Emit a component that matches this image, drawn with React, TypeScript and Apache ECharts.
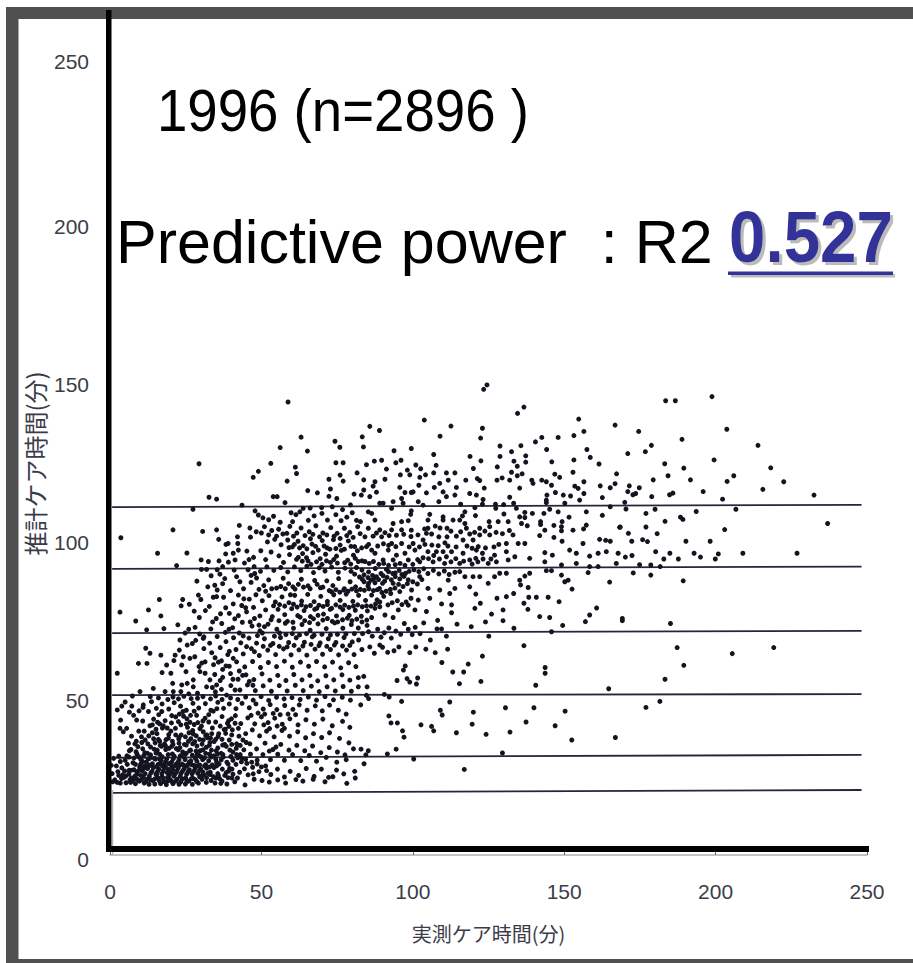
import React, { useEffect, useRef } from "react";
import * as echarts from "echarts";

const xTicks = [0, 50, 100, 150, 200, 250];
const yTicks = [0, 50, 100, 150, 200, 250];
const yearLabel = "1996\u00a0(n=2896\u00a0)";
const powerLabel = "Predictive power\u00a0\u00a0:\u00a0R2";
const powerValue = "0.527";
const xName = "実測ケア時間(分)";
const yName = "推計ケア時間(分)";

// horizontal reference lines: [x, y] at each end (slightly tilted in the scan)
const refLines = [
  [[0.7, 111.2], [248.2, 111.9]],
  [[0.7, 91.7], [248.2, 92.4]],
  [[0.7, 71.4], [248.2, 72.1]],
  [[0.7, 51.8], [248.2, 52.1]],
  [[0.7, 32], [248.2, 32.9]],
  [[0.7, 20.9], [248.2, 21.8]],
];

// scatter values are flat x,y lists
const rightSparse = [183.5,144.8,186.7,144.8,198.8,146.1,174.6,135.1,203.7,135.8,188.9,132.6,178.8,130.7,176.8,128.7,171,128.1,214,130.7,199.5,126.1,183.2,124.9,189.5,123.5,218.2,123.6,184.3,121.1,179.4,119.8,191.7,119.8,206,121.1,203.8,119.3,222.5,119.2,171.5,117.9,174.8,117.3,171,116.1,173.6,115.5,172.7,115.1,215.6,116.8,195.9,116.1,185.9,115.6,184.8,115.1,178.9,114.5,232.5,115,202.3,113.7,170,112.7,170.4,110.6,180,110.5,206.7,110.5,177,109.2,193.6,109.8,188.4,108,189.2,107.3,183.3,106.7,237,106,177,104.9,168.5,104.9,203,104.1,171.2,102.9,180.7,102.8,175.9,100.9,172.3,100.4,177.5,100.3,190.2,100.4,198.2,100.4,180.2,97.1,172.4,95.9,170.2,95.4,184.9,96.6,192.9,96.6,200.9,96.4,209,96.6,226.9,96.6,195,95.4,182.9,94.8,187.7,94.8,199.9,94.8,174.9,93,178.6,92.9,181.7,92.4,172.8,90.4,178.6,89.7,189.3,87.9,169.2,76,185.1,74.4,187.3,66.8,205.5,64.9,219.2,66.8,189.5,61.2,183.3,56.8,181.6,49.8,177,47.9,169.2,75.3];

const lowerSparse = [124,74.9,129.8,75.3,133.4,72.9,149.5,73.8,157,75,145.8,71.8,125.1,70.4,111.1,70.4,108,72.7,109.5,72.7,105.8,69.2,136.7,67.4,111.5,66.3,107.4,65.2,104.3,66.3,101,67,99,65.2,95.4,67,93.8,65.8,91.7,65.3,87.3,65,85.8,67,83.2,66.2,89.1,67.6,90,66.9,123,64.1,109.6,62.1,118.3,61.6,97.5,61,96.9,59.7,113.2,59.1,116.8,59.1,143.7,60.5,143.7,58.7,83.8,57.7,94.8,56.4,98.1,57,101.6,57.2,99,55.9,101.2,55.3,115.4,55.4,122.5,56.1,140.6,54.9,84.9,54.4,164.7,53.8,84.7,51.7,85.4,50.7,90.6,52,92.2,51.2,96.3,49.8,82.8,48.7,112.2,49.6,109.1,47,109.7,45.5,120,46.4,130.6,47.8,140,47.8,150.3,46.7,92.1,45.2,92.8,43,94.9,43,102.7,42.4,119.6,42.6,137.4,43.3,147,42.1,106.2,41.9,106.9,40.5,96.6,40.5,114.4,39.9,124.2,39.4,132.1,40.1,97.1,38.5,152.5,37.6,166.9,38.4,82.9,34.7,85.3,34.2,84.5,32.9,91.6,33.2,94.5,34.7,100.3,31.6,129.6,33.5,83.9,30.1,117,28.3];

const upperMiddle = [124.5,149.8,123.4,148.4,136.7,142.8,134.6,140.8,154.8,139,166.8,137.1,103.8,138.7,112.6,136.8,85.8,136.7,89,135.4,123,136.1,153.2,133.8,156.5,135.1,109,133.6,122.4,133,148,133.2,142.6,133.2,140.5,131.8,83.3,133.4,83.7,130.2,93.8,129,99.5,129.7,128.8,130.5,135.7,130.6,144.2,129.4,157.5,129.4,106.9,127.8,132.6,128.7,128.8,127.2,118.9,127.2,137.3,127.4,158.6,126.9,122.5,125.8,133.4,125.7,137.3,125.4,153.2,126.1,145.9,125.5,161.5,124.8,89.7,126,96.1,126,87.3,125.7,94.4,125.2,84.7,124.6,101,124.5,107.7,124.4,127.9,123.9,134.5,124.1,120,123.4,102.6,123.3,98.2,122.9,91.3,123.2,106.9,122,111.1,122,113.9,122,132.6,122.2,136.1,121.7,152.9,122.2,167.3,121.7,95.9,121.4,99,121.4,104.2,121.4,134.5,121.1,146.9,121.6,148.5,120.6,102.3,120.6,121.3,120.2,129.5,120.4,90.8,120,127.8,119.7,132,119.7,139.3,119.7,142.6,119.7,111.7,119.7,117.5,119.7,122.1,119.6,139.7,118.7,144.1,119.2,83.8,119.8,87.5,119.2,102,118.1,108.9,118.7,156.5,119.2,161.9,117.9,166.8,118.6,145.8,118.1,153.5,117.8,95.7,117.4,107.1,117.4,114.4,117.4,123.6,117.2,135.3,117.2,154.6,117.1,165.2,117.3,86.9,117.8,83.8,116.6,99.5,115.8,97.4,115.8,110,116,118.8,115.5,147.1,115.8,88,115.9,113.9,115,111.1,114.5,104.5,115.7,121,115,144.3,115,149.7,115,152.1,114.7,156.5,115.5,162.6,114.2,83,115,85.8,114.5,96.3,113.9,100.1,116,123.2,113.6,132,114.3,144.1,113.4,155.1,113.4,108.6,112.9];

const middleBand = [89.1,112.4,90.2,112.4,93.5,112.9,96.8,112.4,101.8,112.9,103.4,111.8,115.8,112.1,120.5,111,123,112.1,127.3,112.1,127.4,110.8,130,112,133.3,112.4,134.2,110.8,144.1,112.6,145.2,110.5,150.2,112.4,165.2,111.3,93,110.8,99.5,110,85.3,109.7,86.4,109.2,99.3,108.9,117.2,109.7,116.4,108.4,105.6,108.9,110,108.1,120.7,108.5,130.1,109,135.3,108.1,137,109.5,139.5,109.2,143.3,109.2,148,109.7,157.3,109.7,162.6,108.6,151.6,108,137,107.9,87.5,107.1,93.5,106,96.3,106.6,98.5,106.9,105,107.1,110,107.1,113.3,107.1,115.5,107.1,117.2,106,125.2,106.6,128.2,106.6,131.5,106.6,135.9,106,137.8,105.3,142.2,106.6,142.2,105.7,146.6,105.4,149.3,106.6,149.1,105,82.7,106.6,152.9,103.9,157.3,105.5,156.4,104.3,168.3,104.8,85.3,104.5,89.1,104,93,104,96.3,104,99.5,103.9,105,104.5,111.3,104.5,122.1,104.5,117.7,104.5,125.4,105,149.1,103.7,143.6,103.9,104.5,102.9,106.2,102.7,108.6,101.8,111.3,101.8,114.4,102,118.8,102.7,122.1,102.4,125.4,102.4,133.1,102.4,141.9,102.2,146.6,101.6,161.7,101,163.7,100.7,165.2,100.4,149.3,100.4,137,99.7,134.8,99.7,130.9,99.7,156.2,99.7,121.6,98.7,119.9,100.8,116.6,100.8,110.6,99.9,103.4,100.8,100.1,99.7,96.3,99.7,93,99.7,89.7,101.8,86.9,102,84.2,101.8,84.7,98.7,86.4,97.6,87.5,96.6,91.9,97.6,94.6,96,97.4,96.6,100.7,97.6,105,97.1,107.8,97.1,110,97.1,112.8,97.1,116.6,96.6,121,97.6,123,96.6,127,96,130.9,97.1,133.7,95.5,138.6,95,143.6,96.8,146.1,96,151.8,97.6,154,96.6,158.4,95.7,161.2,96.6,163.9,97.1,167.8,96.6,84.2,94,90.2,94.5,93.5,94.5,98.5,94.5,102.3,93.9,106.7,93.9,111.1,95.5,115.5,93.4,118.8,94.5,121.5,93.9,124.9,93.4,127.6,93.9,131.5,94.5,143.6,93.9,149.1,92.9,154,93.4,158.4,92.4,161.2,92.4,167.2,93.4,144.1,91.1,145.8,91.1,149.1,89.7,157.9,90.5,165,87.5,150.2,87.6,151.3,88.1,152.6,85.3,138.6,90.3,137,89.4,135.3,88.1,135.6,86.6,138.1,85.8,130.9,90.3,128.7,90.3,124.9,87.1,127,89.2,122.1,89.2,119.9,89.2,117.2,89.2,115.5,90.8,118.8,86,120.8,83.7,127.8,82.4,130.9,82.9,133.3,83.9,136.7,80.8,138.3,82.7,140.8,82.7,144.7,82.7,148.3,81.3,138,78.9,141.9,76.6,145.2,76.3,158.4,77.1,160.7,79.3,129.8,78.7,126,77.4,122.3,80.8,120.5,79.2,112.2,83.9,113.9,85.5,111.7,88.1,108.9,85,105,85.5,102.3,89.2,99.6,85,95.7,84.5,93.5,87.1,105.6,82.4,101.8,81.8,98.5,80.2,95.2,78.7,89.1,79.7,87.5,79.2,90.8,77.1,100.7,78.7,104.5,78.2,109.5,80.6,112.8,80.3,112.8,77.8,86.4,76.3,93.5,76.3,103.6,74.6,108.2,75.4,114.6,74.2,119.3,73.4,97.2,74.4,100.8,73.2,92.1,73,88.4,72.6,84.9,73.8,83.4,71.2,86.6,70.4,89.5,70.1,92.9,69.8,96,71,99.8,70.9,102.4,71.2];

const upperLeft = [58.8,144.4,63.1,133.3,56.2,130,65.2,128.9,74.3,132,75.9,130.1,29.4,124.9,53.1,125,74.6,125.2,77,125.2,49,122.5,61.2,123.8,61.6,121.8,47.3,120.6,76,121.3,72.3,120,58.5,119.4,77,119.4,81.6,122,65.3,116.4,72.8,116.9,68.5,115.7,72.3,114.6,74.9,113.9,80.6,115.3,32.7,114.3,35.2,113.7,53.9,114.5,55.2,114.5,57.8,112.6,43.6,111.8,27.4,110.5,47.9,110,49,108.7,3.6,101.5,20.8,104,30.6,103.5,35.2,104,35.9,101,42.7,105.4,42.1,101.8,42.2,99.7,46.4,101.7,38.3,99.4,39,99.7,15.7,96.6,25.4,96.7,30.1,94.5,32.5,94,36,94.2,22,92.7,30.2,91.5,31.9,91.5,28.7,87.8,16.3,82,24,82,23.5,80,26.2,80.5,12.7,78.7,3.3,78,16.8,76.8,29.5,76.3,32.3,86,35.4,85,36.3,90,37.2,87,29.2,83.4,30,82,34.1,82.7,35.2,82.9,37.5,82.7,38.2,79.4,39.4,77.6,40.7,80.6,43.5,80.1,44.2,82.2,39.8,84.8,42.4,83.4,41,91.3,41.8,89.2,42.9,87.6,40.7,96.6,41.3,94.5,42.4,97.6];

const denseUpper = [50.5,107.8,52.4,107.2,54,108.3,56.2,106.4,59.8,109.4,61.4,108.8,62.7,109.7,60.3,106.6,65.5,107,67.4,108.4,70,109.2,71.8,107.1,74.6,108.8,76.3,106.9,78.2,108,80,109.4,81.4,107,63.8,110.8,66.1,110.9,69.9,111,73.4,111.3,76.8,110.4,79.4,111.9,46.2,104.6,48.3,103.4,51,105,53.4,103.8,55.7,104.2,57.1,102.7,59.4,105.1,61.7,103,63.1,104.6,65.8,103.4,68,105.3,70.3,103,72.9,104.7,75,102.9,77.4,104.5,79.2,103.2,81.8,105,52,100.2,54.4,101,56.5,99.3,58.7,100.8,60.2,98.6,62.1,100.4,63.8,99,66.2,101.2,67.9,98.8,70.1,100.6,71.7,98.3,73.8,100.9,76,99.2,78.7,100.5,80.8,98.7,45.2,97.3,47.4,95.3,49.8,97.4,51.4,94.6,53.2,97,55.8,95.8,57.3,93.7,59.3,96.2,61.6,94.7,63.6,96.5,65.4,94.2,67,96.8,69.4,94.9,71.2,96.3,72.8,93.7,74.8,95.7,76.4,97.5,78.5,94.4,80.4,96,82,94,45.6,91.4,47.6,92.4,49.7,90.9,51.8,92.3,54.1,91.2,56.4,92.1,58.7,90.7,60.9,92.3,63,91.1,65,92.5,67.2,90.5,69.1,92,71,91,73.2,92.2,75.4,90.6,77.6,91.9,79.6,90.9,81.4,92.1,83.2,91.3,85.4,90.7,87.6,91.8,89.5,90.2,91.3,91.5,93.4,90.2,95.5,91.2,97.6,90.3,44.1,85.4,46.6,87.4,48.4,88.8,50.8,86.4,52.4,88.2,55,85.6,57.2,88.7,59,87,61.1,85.3,63.2,88.4,65.4,86.3,67.6,88,69.5,85.7,71.6,87.9,73.6,86.4,75.5,88.6,77.4,85.4,79.3,87.6,81.1,86,83.3,88.4,85.2,86.3,87.1,88.6,89,85.5,90.7,87.8,92.6,85.2,46,82.1,48.2,83.5,50.3,81.6,52.5,83.2,54.6,81.2,56.8,82.8,59.1,81,61,83.3,63.3,81.5,65.3,83.6,67.4,81.3,69.6,83,71.8,81.4,73.9,83.5,76,81.7,78,83.7,80.2,81.4,82.1,83.3,84.4,81.7,86.4,83.4,88.2,81.9,90.4,83,45.1,78.1,47.4,79.5,49.5,76.8,51.4,78.7,53.6,76.6,55.5,78.9,57.7,77.2,60,79.1,62,76.9,64.1,78.5,66.2,76.6,68.3,79.2,70.5,77.4,72.7,78.9,74.8,76.8,76.9,78.8,79,77,81,78.6,83,76.7,85,78.4];

const denseMiddle = [8.5,75.2,12.1,72.4,17.8,72.8,22.4,74,28.1,73.2,33.3,72.7,36.9,74.4,40.5,73.1,43.7,74.8,46.9,73.6,49.5,72.1,52.2,74.2,55.1,72.6,57.9,74.5,60.6,72.9,63.4,74.1,66.1,72.3,68.7,74.3,71.4,72.8,74.2,74.6,76.9,72.9,79.7,74.1,82,73,28.3,69.1,32.9,68.2,35.4,70.3,38.3,68.7,40.8,69.9,43.2,68.3,45.9,69.8,48.4,68.2,51,69.6,53.8,68.1,56.3,70,59,68.4,61.5,69.9,64.2,68.5,66.8,70.2,69.4,68.3,72.1,69.6,74.6,68.4,77.3,70,80,68.6,82.1,69.2,22.9,66,33.6,65.2,36.4,66.8,38.9,64.6,41.6,66.2,44,64.8,46.7,66.5,49.3,64.3,52.1,66,54.7,64.6,57.3,66.4,59.8,64.5,62.4,66.1,65,64.4,67.7,66.3,70.2,64.7,72.8,66.2,75.5,64.5,78.1,66,80.6,64.6,34.2,61.4,36.8,62.6,39.4,60.9,41.8,62.3,44.5,60.7,47.1,62.4,49.7,60.5,52.3,62.1,55,60.8,57.6,62.5,60.2,60.6,62.9,62.2,65.6,60.9,68.2,62.4,70.9,60.7,73.5,62.2,76.2,60.4,78.8,62,81.2,60.8,34.6,58.3,37.2,57.4,39.8,58.6,42.3,56.8,44.9,58.2,47.5,56.7,50.2,58.5,52.8,56.5,55.4,58,58.1,56.4,60.7,58.3,63.4,56.6,66,58,68.6,56.3,71.3,57.9,73.9,56.6,76.6,58.2,79.2,56.5,82,57.3,33.8,54.2,36.8,53.6,39.9,54.8,42.9,53.4,45.4,55,48,53.2,50.6,54.7,53.3,53,55.9,54.8,58.5,53.1,61.2,54.9,63.8,53.2,66.5,54.6,69.1,52.9,71.7,54.4,74.4,53.1,77,54.5,79.7,53,82,54.4];

const denseLower = [3.9,48.3,2.4,47.1,7.2,48.3,11,48.7,13.7,49.7,12.7,46.6,3.5,43.9,8.8,43.9,3.3,41.3,5.5,41.3,4.4,40.2,15.3,47.6,17.2,49,19.4,47.4,21.2,49.4,23.3,48.3,25.2,47,27.4,49.2,29.3,47.7,31.5,49.1,33.3,47,35.6,49.5,37.5,47.6,39.4,49,41.6,47.5,43.6,49.2,46,47.8,48.2,49,50.6,47.4,52.9,48.8,55.1,47.2,57.7,48.5,60.4,47.3,62.5,48.7,65.1,47,67.8,48.4,70.1,46.8,72.5,48.6,75.4,47,78,45.8,14.4,44.2,16.1,45.6,18.2,43.7,20.4,45.3,22.6,43.4,24.3,45.1,26.4,43.2,28.6,45.4,30.7,43.6,32.6,45.6,34.9,43.3,37,45,39.2,43.7,41.4,45.3,43.2,42.8,45.5,44.6,47.8,42.7,50,44.9,52.2,43.1,54.4,44.5,56.9,42.6,59.4,44.3,62.1,42.4,64.7,44,67.5,42.6,70.3,44.2,73.4,42.1,76.8,43.5,79.2,41.6,11.3,40.4,13.2,42.1,15.5,39.6,17.3,41.4,19.4,39.3,21.6,41.3,23.5,39.2,25.6,41.6,27.5,39.5,29.7,41.2,31.6,39,33.8,41.4,35.9,39.6,38.1,41,40.2,39.2,42.4,41.3,44.8,39.6,47,40.8,49.4,38.9,51.7,40.4,54.2,38.6,56.8,40.6,59.3,38.8,62,40.2,64.6,38.3,67.2,39.6,69.9,38.4,72.5,39.9,75.8,38.1,78.9,36.7,8.7,37.2,10.4,38.6,12.5,36.4,14.4,38,16.6,35.9,18.5,37.7,20.4,35.6,22.7,37.9,24.6,36.2,26.7,38,28.7,35.7,30.8,37.6,32.8,35.9,34.9,37.8,37.2,36,39.4,37.6,46.2,36.4,48.4,34.8,51.2,36.6,53.8,34.6,56.4,36.2,59.1,34.4,61.7,35.9,64.3,34.2,66.9,35.7,69.6,33.6,72.4,35.2,75.1,33.8,77.6,32.9,80.4,34.8,6.9,34.6,8.6,33.9,10.8,34.8,12.4,33.4,14.6,34.7,16.4,33.1,18.4,34.6,20.6,33.2,22.5,34.5,24.7,33,26.6,34.4,28.8,33,30.7,34.5,32.9,33.1,35.1,34.2,37.3,33,39.6,34.4,41.8,33,44.2,34.5,6.3,32.2,44.8,31.5,46.4,33.1,48.6,31.2,50.5,33,53,31.4,55.4,33.1,57.6,31.2,60.3,33,63,31.1,65.8,32.7,68.2,30.9,71.4,32.1,74.9,30.6,78,31.4,47.1,29,49.2,27.6,51.4,29.4,53.1,26.7,55.3,28.4,57.6,25.9,59.5,27.7,62.3,26.4,64.8,28.6,67.4,26.1,69.8,28.4,72.2,25.8,74.8,28.1,77.2,26.9,80.8,27.7,47.6,25.2,50.2,24.8,52.6,24.3,55.4,25,58,24,61.4,25.1,63.7,24.6,67.1,25.2,71,24.4,73.6,26,78.2,23.9,81,25.6,44.6,23.4,41.2,24.4,40.6,26.8,42.8,27.4,44.4,28.5,39.5,28.6,41.6,29.9,43.4,30.7];

const cluster = [0.7,27,1.6,25,2.6,27.6,3.4,24,4.6,25.8,5.3,24.1,6.2,26.8,6.8,24.2,8.1,25.4,8.4,23.8,9.7,24.6,10.2,26.4,11.3,24,12.2,25.2,12.9,23.6,14.1,24.8,14.8,23.7,15.9,25.6,16.7,23.8,17.8,24.5,18.6,23.5,19.9,25.1,20.8,23.8,21.7,24.6,22.8,23.6,23.9,25.3,24.9,23.7,26,24.6,27.2,23.6,28.1,25.1,29.2,24,30.4,25.2,31.8,24.2,33.4,24.8,35,25.6,37,24.6,39,25.7,2.1,29.4,3.9,28.8,5.7,29.9,6.9,28,7.6,30.4,8.9,27.4,9.8,29.1,10.6,27.9,11.6,27,12.4,28.6,13.5,27.2,14.3,28.9,15.2,26.8,16.2,28.4,17.1,27,18,28.9,18.9,27.3,19.6,26.6,20.7,28.2,21.6,27,22.5,28.7,23.4,27,24.4,28.4,25.3,26.8,26.2,28.2,27.1,26.9,28.1,28.5,29,27.1,30,28.4,31,26.6,31.9,28.7,33.1,27.4,34.3,28.9,35.6,27,37.1,28.4,38.4,27.3,5.6,32.6,6.4,34.2,7.9,31.9,8.9,33.2,10.2,31.4,11.1,32.6,12,30.6,13.1,31.8,14,30.1,15,31.6,15.9,29.9,16.9,31.2,17.8,29.8,18.7,31.6,19.9,30.2,20.9,31.7,21.9,30,22.8,31.3,23.8,30,24.8,31.4,25.7,29.8,26.7,31,27.7,29.6,28.7,30.9,29.6,29.7,30.6,31.4,31.6,29.8,32.6,31,33.8,29.7,34.9,31.6,36,30,37.4,32.2,38.6,30.6,39.9,32.4,13.4,35.4,14.9,36.7,16.4,37.2,18,36.4,19.3,38.2,20.6,37.2,21.7,39.2,22.8,36.6,24,33.8,25.2,36,26.3,34.2,27.3,36.4,28.4,34.1,29.2,32.9,30.4,36.3,31.6,33.4,33,36.8,34.3,32.6,35.6,35.1,36.7,33.4,37.9,36.2,39,30,40.3,28.4,40.6,33.8,41.8,36.4,43,33,5.2,26.2,7,25.6,9,26.8,11,25.9,13,26.2,15.4,26.6,17.2,26,19,25.8,21.1,26.2,23.2,26.1,25,25.6,27.4,25.5,29.6,26,31.9,25.7,4.2,26.6,0.9,24.4,2.4,24.2,34.7,24,36.6,23.9,38.6,23.7,33.1,26.7,35.8,26.4,11.4,29.3,13.7,29.6,17.4,29.4,20.4,29.2,24.4,29.6,28,29.4,2.9,32.5,1.2,31.8,0.4,29.6,8.2,36.4,7.1,38.8,6.1,36.6,9.5,40.4,10.8,43.6,7.8,45.4,15.7,43.2,17.1,46.6,19.1,50.4,20.8,51.2,22.6,50.6,24.4,51.4,26.8,50.7,28.9,50.8,30.7,51.3,33.2,50.6,34.9,51.5,37,50.4,39.8,50.9,42.2,50.4,44.8,51.2,47.3,50.2,49.9,51.3,52.4,50.1,55,51.1,57.5,50.6,60.1,51,62.8,50.4,65.5,51.2,68.2,50.2,71,51.3,73.8,50.3,76.7,51.1,79.4,50.2];

const triangleFill = [11.8,66.6,13.2,65,16.8,64.4,9.4,61.8,12.2,61.8,2.4,58.7,18.7,61.3,17.2,58.9,20.1,58.7,23.1,69.2,21.5,64.4,21.1,62.7,25.5,67.6,27.2,68.1,24.2,63.9,23.7,61.3,25.1,59.2,26.4,63.4,28,63.9,31,66.5,30.8,69.7,31.4,62.3,29.7,59.2,31.4,58.7,27.5,56.6,25.5,55.5,23.7,55,20.7,55.5,14.3,53.9,9.9,52.9,7.4,51.5,18.2,52.9,20.9,52.9,23.4,52.9,27.5,54.4,31.9,54.4,35.2,55,41.3,53.4,38.5,51.8,29.4,60.8,30.3,61.9,24.8,71.4,26,72.6,29.6,71.1,31,70.2,33.9,74.9,35.1,76,36.5,77.5,31.5,78.5,32.8,79.8,27.8,78.3,34.6,86.5,37.9,88.6,33.4,89.5,35.4,91.4,37.2,92.4,39.1,93.8,38.2,96.4,44.4,93.5,45.9,94.6,46.6,89.6,47.8,90.2,44.8,79.4,46.3,74.9,47.7,76,41.2,75.9,42.4,76.9,38.1,71.6,39.3,72.6,42.7,71.4,44,70.5,34.7,63.6,35.8,62.2,39.4,65.6,40.7,63.4,37.2,59.9,38.3,61,42.7,59.4,43.8,58,46,56.1,47.2,54.9,36.4,56.4,33,56.6,28.9,52.4,16,50.9,13.3,51.3,26,52.2,34.8,52.8,40.6,56.8];

const lowerLeftFill = [5,49.6,6.4,46.4,9.6,46.8,10.9,47.9,16.4,42.7,17.6,42.1,18.9,41.4,20.1,40.4,21.7,44.9,22.9,45.8,24.1,46.6,25.4,44.3,26.6,45.4,27.8,46.7,29,43.1,30.2,42,31.4,44.5,32.6,43.3,34.1,46.7,35.3,47.5,36.4,42,37.7,40.9,38.8,42.9,40.1,44.3,41.3,42.9,42.6,38.8,43.9,37.6,45,36.8,15.6,34.4,17,35.6,18.3,35.8,19.5,35,20.8,36.2,21.9,34.9,23.1,35.2,24.9,38.6,26.1,39.9,27.3,40.6,28.5,38.9,29.6,37.8,30.8,40.2,32,39.2,33.2,38.2,34.4,37.1,35.7,38.7,37,37.8,38.2,39.7,39.3,41.9,40.4,40.8,9.2,35.5,10.5,36.8,11.6,37.6,12.8,38.9,14,39.9,15.2,41,9.1,32.6,11.5,33.6,13.4,32.9,15.2,33.5,17.2,32.3,19.2,33,21.2,32.5,23.2,32.6,25.2,33.4,27.2,32.8,29.8,34.2,31.8,35.3,33.5,34.4,35.5,33.2,38.4,35.6,40.2,36.2,41.7,35,43,35.9,40.6,31.2,42.2,32,43.6,31.8,45.2,30.2,46.8,30.6,45.6,26.6,47.3,26.9,48.6,30,50,29.1,51.7,27.9,52.6,34.1,54.8,35.4,50.8,42.4,52.7,41.2,55.2,42,57.6,41.3,46.6,45.4,48.9,46.1,51.1,45.8,53.9,46,56.2,45.6,58.8,45.8,61.3,45.6];

const coreFill = [62.8,76.4,64.3,75.3,65.9,74.7,67.2,75.9,68.7,77,70.3,75.5,71.8,76,73.4,75.1,75.2,74.9,76.8,75.6,78.4,76.1,79.9,75.3,81.5,75.8,83.2,74.9,84.8,75.5,60.6,80.5,61.8,79.6,63.2,80.3,64.7,79.7,66.2,80.1,67.6,78.9,69,80.2,70.4,79.8,71.8,80.4,73.2,79.2,74.6,80.3,76,79.6,77.5,80.2,78.9,79.5,80.4,79.9,81.8,80.3,83.3,79.7,84.7,80,86.2,79.9,87.7,80.6,89.1,81.2,91.8,80.3,93.2,81,94.9,81.6,96.4,80.4,97.8,81.2,99.4,82.4,73.2,84.4,74.6,85.1,75.9,84.3,77.2,85,78.6,84.6,79.9,85.3,81.4,84.7,82.7,85.2,84,84.9,85.5,85.4,87,84.8,88.3,85.1,89.8,84.2,91.2,84.6,92.7,83.9,94.1,85.6,95.3,86.8,96.8,86.1,98.2,87,83.9,87.6,85.4,87.1,86.2,88.1,87.5,87.3,88.7,88.3,90,87.1,91.5,89,92.9,88.2,94.2,89.2,95.7,88.5,97.1,89.3,98.5,88.2,100,87.6,101.5,86.9,103,88.3,80.8,90,82.4,89.1,83.9,89.8,85.2,88.9,86.7,89.6,88,89.2,90.2,89.5,92,90.8,94.2,90.4,96.4,89.9,98.8,90.9,100.4,91.4,102,90.8,103.6,91.7,105,90.2,106.8,91.2,108.6,90.1,110.4,91,112,89.9,113.9,90.6,62.2,95.3,63.5,94.1,64.9,95.2,66.4,93.1,68.2,93.9,70,93.1,71.5,94.2,73.9,94.6,75.1,93.5,77.5,93.6,79.5,93.2,81,95,83.2,94.2,85.6,93.4,87,94,88.8,93.1,90.4,93.4,92,92.8,94.2,93,95.8,93.4,97.4,92.8,100,93.1,101.6,94.6,103.4,95.2,105.2,94.9,106.9,95.9,108.8,94.8,110.5,93.4,112.6,93.9,114.2,94.9,116.8,94.1,119.6,93.2,120.8,95,123.2,94.8,125.8,94.8,59.1,98.4,60.9,99.4,62.6,98.3,65,98,66.7,99.5,68.8,97.6,70.7,98.9,72.6,97.9,74.6,98.1,77.4,97.9,79.6,98.8,81.7,97.4,83.1,98.3,85.4,99.4,88.4,98.9,90.3,99.6,92,99.1,94.4,98.7,98.8,98.6,102.2,98.6,104,99.4,106.3,99.2,108.4,99,111.6,98.9,114.3,98.6,117.9,98.9,119.6,98.2,124,98.3,126.8,98.6,128.4,99.4,50,103,52.4,102.4,55,102,58.4,102.9,60.6,102,64.4,102.2,67,102.6,69.2,101.8,71.6,102.4,74,102,76,101.3,78.2,102.2,80.3,101.6,82.6,102.8,88,103,90.8,103.1,92.2,102.2,94.6,102.3,97,102.6,99.4,101.9,101.7,102.4,103.9,104.3,107.4,105.2,109,104.6,112.6,103.6,115.8,103.4,120.4,103.2,123.8,103.6,127.5,103.2,129.6,102.8,131.9,103.8,60.4,86,62.2,86.8,63.9,85.9,66.1,85.4,68.4,86.8,70.3,85.9,72.4,84.8,56.4,86.1,57.9,85.4,59.6,83.5,53.4,85.4,51.4,84.6,49.2,85.2,54,80,56,80.4,57.7,79.9,49.2,73.9,51,73.4,53.2,75.6,55.8,75.3,58.6,75.1,60.4,74.8,48.7,70.6,50.3,71.4,54.3,70.4,56,71.4,58.1,70.9,60.2,71.2,62.6,70.8,64.9,71.2,67.4,70.7,70,71,72.8,70.8,75.1,71,77.9,71.1,80.7,71.2,85.4,71.8,90.6,71.5,94.4,72,98.5,72.6,45.1,67.1,47.7,65.5,50.6,67.2,53,67.5,55.9,67.2,58.5,67,60.8,67.5,63.7,67.3,66.4,67.8,69,67.4,71.6,67.2,74.1,67.6,76.8,67.3,79.2,67.5];

const clusterFill = [7.4,24.8,8.9,25.2,10.4,25.1,11.9,24.6,13.4,25,14.8,25.3,16.3,24.7,17.6,25.5,19,24.6,20.4,24.5,22.1,25.2,23.4,24.4,25.4,24.6,26.9,25.4,28.6,24.5,30.1,26.2,6.3,28,7.9,28.2,9.4,27.9,11.1,28.6,12.8,29.7,13.9,27.7,15.7,27.7,17.6,27.8,19.3,28.3,20.2,27.3,22.1,27.8,23.9,27.7,25.8,27.6,27.6,27.7,29.6,28,30.7,27.4,32.4,27.1,8.4,29.9,10.1,30,12.6,29.2,15.4,29.2,16.7,30,18.3,29.1,19.4,30.1,21.4,29.4,23,29.6,25.3,29.3,26.9,29.8,29,29.4,31.2,29.4,32.9,29.1,9.6,32.2,10.7,30.8,12.6,31.6,14.6,31.8,16.4,31.5,18.3,30.6,20.4,30.7,22.4,30.5,24.2,32.4,26.2,30.6,28.2,31.8,30,32.3,31.2,32,33.4,32.2,35.2,30.6,8.2,26.2,6.6,25,3.8,25.4,2.9,26.4,4.8,27.8,3.4,30.8,5,31.2,34.2,26,36.2,25.4,37.9,26.4,35.2,29.4,36.7,31.3,39.2,27.8,40.3,25.6,42.1,25.6,16,37.8,22.8,38.4,25.9,37.2,28,37.1,32.2,38.3,33.6,39.6,14,42.4,20.3,43,23.4,42.4,25.2,42.6,27.8,42.5];

const chunk = (f: number[]) => {
  const out: number[][] = [];
  for (let i = 0; i + 1 < f.length; i += 2) out.push([f[i], f[i + 1]]);
  return out;
};

const allPoints = [rightSparse, lowerSparse, upperMiddle, middleBand, upperLeft, denseUpper, denseMiddle, denseLower, cluster, triangleFill, lowerLeftFill, coreFill, clusterFill].flatMap(chunk);

const FRAME = "#505050";
const LABEL = "#3c3c48";
const SANS = '"Liberation Sans", sans-serif';
const CJK = '"Noto Sans CJK JP", sans-serif';

export default function App() {
  const ref = useRef<HTMLDivElement>(null);
  useEffect(() => {
    const chart = echarts.init(ref.current!, undefined, { renderer: "svg" });
    chart.setOption({
      animation: false,
      backgroundColor: "#fff",
      grid: { left: 110, right: 46, top: 67.8, bottom: 104 },
      xAxis: {
        type: "value", min: 0, max: 250, interval: 50, offset: -4,
        splitLine: { show: false },
        axisLine: { show: true, lineStyle: { color: "#b0b0b0", width: 1.5 } },
        axisTick: { show: true, inside: true, length: 4, lineStyle: { color: "#666", width: 1 } },
        axisLabel: { margin: 26, fontFamily: SANS, fontSize: 21, color: LABEL,
          formatter: (v: number) => (xTicks.includes(v) ? String(v) : "") },
        name: xName, nameLocation: "middle", nameGap: 68, nameMoveOverlap: false,
        nameTextStyle: { fontFamily: CJK, fontSize: 20, color: LABEL },
      },
      yAxis: {
        type: "value", min: 0, max: 250, interval: 50,
        splitLine: { show: false },
        axisLine: { show: false }, axisTick: { show: false },
        axisLabel: { margin: 21, fontFamily: SANS, fontSize: 21, color: LABEL,
          formatter: (v: number) => (yTicks.includes(v) ? (v === 250 ? `{up|${v}}` : String(v)) : ""),
          rich: { up: { fontFamily: SANS, fontSize: 21, color: LABEL, padding: [0, 0, 12, 0] } } },
        name: yName, nameLocation: "middle", nameGap: 64, nameMoveOverlap: false,
        nameTextStyle: { fontFamily: CJK, fontSize: 24, color: LABEL },
      },
      series: [
        ...refLines.map((d) => ({
          type: "line", data: d, symbol: "none", silent: true, z: 2,
          lineStyle: { color: "#26263a", width: 1.8 },
        })),
        {
          type: "scatter", data: allPoints, symbolSize: 5, z: 3,
          itemStyle: { color: "#141420", opacity: 1 },
        },
      ],
      graphic: [
        { type: "rect", z: 20, shape: { x: 6, y: 7, width: 907, height: 12 }, style: { fill: FRAME } },
        { type: "rect", z: 20, shape: { x: 6, y: 7, width: 12.5, height: 956 }, style: { fill: FRAME } },
        { type: "rect", z: 20, shape: { x: 6, y: 959, width: 907, height: 4 }, style: { fill: FRAME } },
        { type: "rect", z: 21, shape: { x: 106, y: 10, width: 5.5, height: 842 }, style: { fill: "#000" } },
        { type: "rect", z: 21, shape: { x: 106, y: 846, width: 763, height: 6 }, style: { fill: "#000" } },
        { type: "rect", z: 19, shape: { x: 112, y: 790, width: 1.2, height: 65 }, style: { fill: "#b0b0b0" } },
        { type: "text", z: 22, x: 157, y: 80, scaleX: 0.91, style: { text: yearLabel, font: `60px ${SANS}`, fill: "#000" } },
        { type: "text", z: 22, x: 116, y: 211, style: { text: powerLabel, font: `61px ${SANS}`, fill: "#000" } },
        { type: "text", z: 22, x: 729, y: 201, scaleX: 0.91, style: { text: powerValue, font: `bold 72px ${SANS}`, fill: "#333399", textShadowColor: "#bbbbbb", textShadowOffsetX: 3, textShadowOffsetY: 3, textShadowBlur: 1 } },
        { type: "rect", z: 21, shape: { x: 731, y: 274, width: 164, height: 3.5 }, style: { fill: "#bbb" } },
        { type: "rect", z: 22, shape: { x: 728, y: 271.5, width: 165, height: 3.5 }, style: { fill: "#333399" } },
      ],
    });
    return () => chart.dispose();
  }, []);
  return <div ref={ref} style={{ position: "absolute", left: 0, top: 0, width: 913, height: 963 }} />;
}
